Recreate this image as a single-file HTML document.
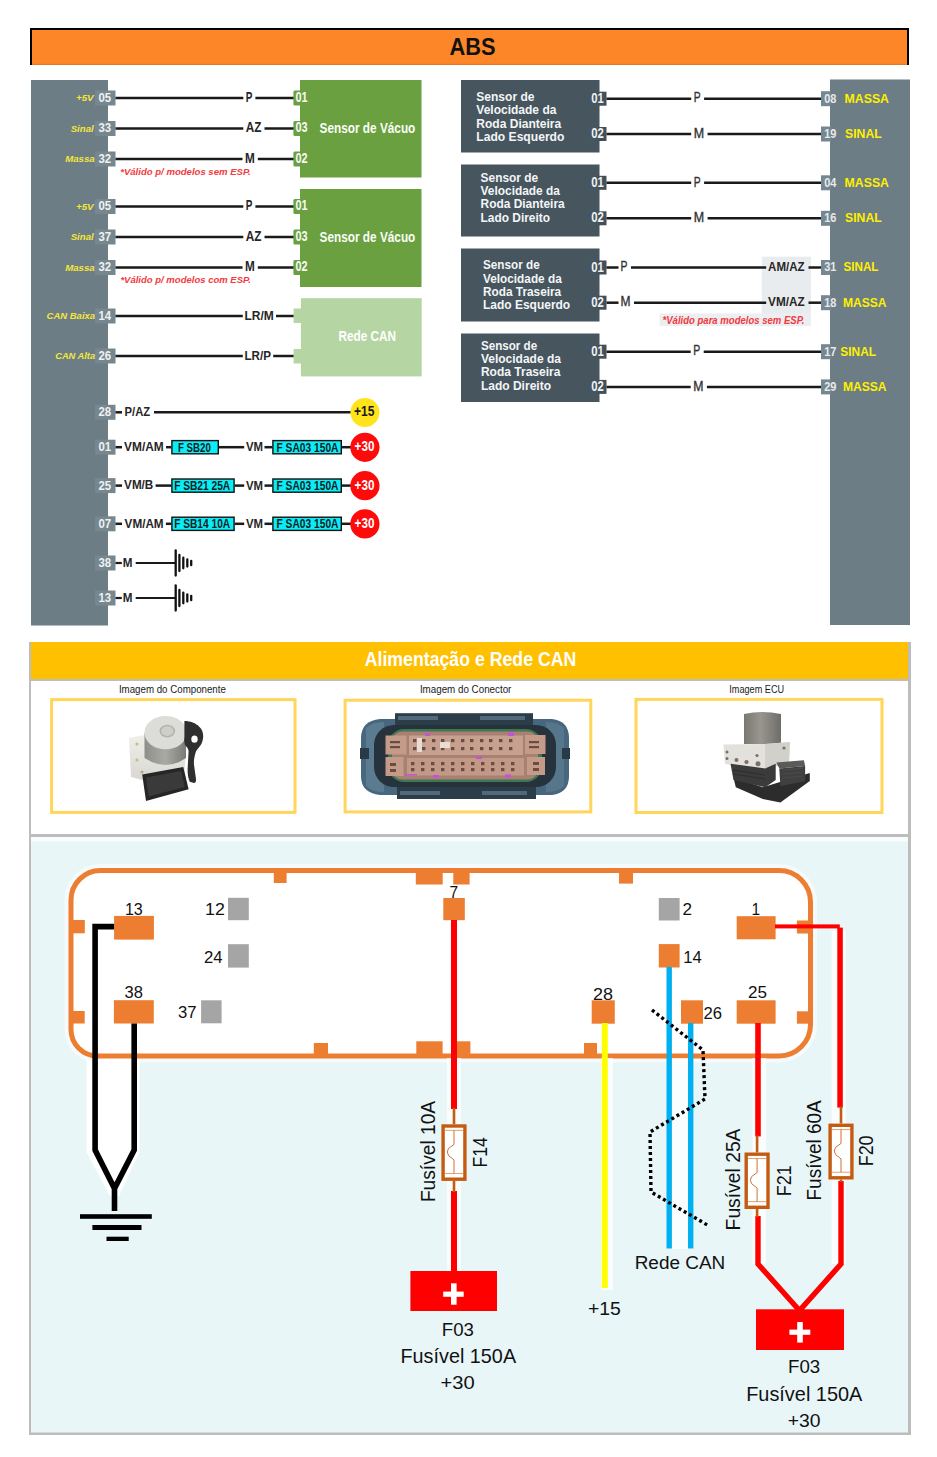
<!DOCTYPE html>
<html><head><meta charset="utf-8"><title>ABS</title>
<style>
html,body{margin:0;padding:0;background:#fff;}
body{width:937px;height:1457px;overflow:hidden;}
svg{display:block;font-family:"Liberation Sans",sans-serif;}
</style></head>
<body>
<svg width="937" height="1457" viewBox="0 0 937 1457">
<rect x="0" y="0" width="937" height="1457" fill="#FFFFFF"/>
<rect x="30" y="28" width="879" height="36.8" fill="#FD8628"/>
<rect x="31" y="63.9" width="877" height="0.9" fill="#E06E1E"/>
<path d="M31,65 V29 H908 V65" fill="none" stroke="#000" stroke-width="2"/>
<text x="449.6" y="55.2" font-size="23.5" fill="#111" font-weight="bold" textLength="46" lengthAdjust="spacingAndGlyphs">ABS</text>
<rect x="31" y="80" width="77" height="545.5" fill="#6C7D86"/>
<rect x="830" y="79.5" width="80" height="545.5" fill="#6C7D86"/>
<rect x="95" y="90.5" width="20.5" height="15" fill="#77878F"/>
<text x="98.5" y="101.9" font-size="13" fill="#EEF1F2" font-weight="bold" textLength="12.7" lengthAdjust="spacingAndGlyphs">05</text>
<text x="75.9" y="101.2" font-size="9.6" fill="#F5E63A" font-weight="bold" font-style="italic" textLength="17.8" lengthAdjust="spacingAndGlyphs">+5V</text>
<rect x="95" y="121" width="20.5" height="15" fill="#77878F"/>
<text x="98.5" y="132.4" font-size="13" fill="#EEF1F2" font-weight="bold" textLength="12.7" lengthAdjust="spacingAndGlyphs">33</text>
<text x="70.7" y="131.7" font-size="9.6" fill="#F5E63A" font-weight="bold" font-style="italic" textLength="23" lengthAdjust="spacingAndGlyphs">Sinal</text>
<rect x="95" y="151.5" width="20.5" height="15" fill="#77878F"/>
<text x="98.5" y="162.9" font-size="13" fill="#EEF1F2" font-weight="bold" textLength="12.7" lengthAdjust="spacingAndGlyphs">32</text>
<text x="65.2" y="162.2" font-size="9.6" fill="#F5E63A" font-weight="bold" font-style="italic" textLength="29.5" lengthAdjust="spacingAndGlyphs">Massa</text>
<rect x="95" y="199" width="20.5" height="15" fill="#77878F"/>
<text x="98.5" y="210.4" font-size="13" fill="#EEF1F2" font-weight="bold" textLength="12.7" lengthAdjust="spacingAndGlyphs">05</text>
<text x="75.9" y="209.7" font-size="9.6" fill="#F5E63A" font-weight="bold" font-style="italic" textLength="17.8" lengthAdjust="spacingAndGlyphs">+5V</text>
<rect x="95" y="229.5" width="20.5" height="15" fill="#77878F"/>
<text x="98.5" y="240.9" font-size="13" fill="#EEF1F2" font-weight="bold" textLength="12.7" lengthAdjust="spacingAndGlyphs">37</text>
<text x="70.7" y="240.2" font-size="9.6" fill="#F5E63A" font-weight="bold" font-style="italic" textLength="23" lengthAdjust="spacingAndGlyphs">Sinal</text>
<rect x="95" y="260" width="20.5" height="15" fill="#77878F"/>
<text x="98.5" y="271.4" font-size="13" fill="#EEF1F2" font-weight="bold" textLength="12.7" lengthAdjust="spacingAndGlyphs">32</text>
<text x="65.2" y="270.7" font-size="9.6" fill="#F5E63A" font-weight="bold" font-style="italic" textLength="29.5" lengthAdjust="spacingAndGlyphs">Massa</text>
<rect x="95" y="308.5" width="20.5" height="15" fill="#77878F"/>
<text x="98.5" y="319.9" font-size="13" fill="#EEF1F2" font-weight="bold" textLength="12.7" lengthAdjust="spacingAndGlyphs">14</text>
<text x="46.6" y="319.2" font-size="9.6" fill="#F5E63A" font-weight="bold" font-style="italic" textLength="48.5" lengthAdjust="spacingAndGlyphs">CAN Baixa</text>
<rect x="95" y="348.5" width="20.5" height="15" fill="#77878F"/>
<text x="98.5" y="359.9" font-size="13" fill="#EEF1F2" font-weight="bold" textLength="12.7" lengthAdjust="spacingAndGlyphs">26</text>
<text x="55.2" y="359.2" font-size="9.6" fill="#F5E63A" font-weight="bold" font-style="italic" textLength="39.9" lengthAdjust="spacingAndGlyphs">CAN Alta</text>
<rect x="95" y="404.8" width="20.5" height="15" fill="#77878F"/>
<text x="98.5" y="416.2" font-size="13" fill="#EEF1F2" font-weight="bold" textLength="12.7" lengthAdjust="spacingAndGlyphs">28</text>
<rect x="95" y="439.7" width="20.5" height="15" fill="#77878F"/>
<text x="98.5" y="451.1" font-size="13" fill="#EEF1F2" font-weight="bold" textLength="12.7" lengthAdjust="spacingAndGlyphs">01</text>
<rect x="95" y="478.1" width="20.5" height="15" fill="#77878F"/>
<text x="98.5" y="489.5" font-size="13" fill="#EEF1F2" font-weight="bold" textLength="12.7" lengthAdjust="spacingAndGlyphs">25</text>
<rect x="95" y="516.3" width="20.5" height="15" fill="#77878F"/>
<text x="98.5" y="527.7" font-size="13" fill="#EEF1F2" font-weight="bold" textLength="12.7" lengthAdjust="spacingAndGlyphs">07</text>
<rect x="95" y="555.5" width="20.5" height="15" fill="#77878F"/>
<text x="98.5" y="566.9" font-size="13" fill="#EEF1F2" font-weight="bold" textLength="12.7" lengthAdjust="spacingAndGlyphs">38</text>
<rect x="95" y="590.5" width="20.5" height="15" fill="#77878F"/>
<text x="98.5" y="601.9" font-size="13" fill="#EEF1F2" font-weight="bold" textLength="12.7" lengthAdjust="spacingAndGlyphs">13</text>
<line x1="115.5" y1="98" x2="243.3" y2="98" stroke="#1a1a1a" stroke-width="2.5"/>
<line x1="255.4" y1="98" x2="294" y2="98" stroke="#1a1a1a" stroke-width="2.5"/>
<text x="245.8" y="101.7" font-size="13.8" fill="#262626" font-weight="bold" textLength="6.6" lengthAdjust="spacingAndGlyphs">P</text>
<line x1="115.5" y1="128.5" x2="243.3" y2="128.5" stroke="#1a1a1a" stroke-width="2.5"/>
<line x1="264.5" y1="128.5" x2="294" y2="128.5" stroke="#1a1a1a" stroke-width="2.5"/>
<text x="245.8" y="132.2" font-size="13.8" fill="#262626" font-weight="bold" textLength="15.7" lengthAdjust="spacingAndGlyphs">AZ</text>
<line x1="115.5" y1="159" x2="242.5" y2="159" stroke="#1a1a1a" stroke-width="2.5"/>
<line x1="257.8" y1="159" x2="294" y2="159" stroke="#1a1a1a" stroke-width="2.5"/>
<text x="245" y="162.7" font-size="13.8" fill="#262626" font-weight="bold" textLength="9.8" lengthAdjust="spacingAndGlyphs">M</text>
<line x1="115.5" y1="206.5" x2="243.3" y2="206.5" stroke="#1a1a1a" stroke-width="2.5"/>
<line x1="255.4" y1="206.5" x2="294" y2="206.5" stroke="#1a1a1a" stroke-width="2.5"/>
<text x="245.8" y="210.2" font-size="13.8" fill="#262626" font-weight="bold" textLength="6.6" lengthAdjust="spacingAndGlyphs">P</text>
<line x1="115.5" y1="237" x2="243.3" y2="237" stroke="#1a1a1a" stroke-width="2.5"/>
<line x1="264.5" y1="237" x2="294" y2="237" stroke="#1a1a1a" stroke-width="2.5"/>
<text x="245.8" y="240.7" font-size="13.8" fill="#262626" font-weight="bold" textLength="15.7" lengthAdjust="spacingAndGlyphs">AZ</text>
<line x1="115.5" y1="267.5" x2="242.5" y2="267.5" stroke="#1a1a1a" stroke-width="2.5"/>
<line x1="257.8" y1="267.5" x2="294" y2="267.5" stroke="#1a1a1a" stroke-width="2.5"/>
<text x="245" y="271.2" font-size="13.8" fill="#262626" font-weight="bold" textLength="9.8" lengthAdjust="spacingAndGlyphs">M</text>
<rect x="300" y="80" width="121.5" height="97.5" fill="#6AA040"/>
<rect x="293.4" y="90.5" width="10" height="15" rx="1.5" fill="#6AA040"/>
<text x="295.5" y="101.9" font-size="13.8" fill="#F7FAF4" font-weight="bold" textLength="12.1" lengthAdjust="spacingAndGlyphs">01</text>
<rect x="293.4" y="121" width="10" height="15" rx="1.5" fill="#6AA040"/>
<text x="295.5" y="132.4" font-size="13.8" fill="#F7FAF4" font-weight="bold" textLength="12.1" lengthAdjust="spacingAndGlyphs">03</text>
<rect x="293.4" y="151.5" width="10" height="15" rx="1.5" fill="#6AA040"/>
<text x="295.5" y="162.9" font-size="13.8" fill="#F7FAF4" font-weight="bold" textLength="12.1" lengthAdjust="spacingAndGlyphs">02</text>
<text x="319.6" y="133.1" font-size="14.2" fill="#FBFDF8" font-weight="bold" textLength="95.7" lengthAdjust="spacingAndGlyphs">Sensor de Vácuo</text>
<rect x="300" y="189" width="121.5" height="98" fill="#6AA040"/>
<rect x="293.4" y="199" width="10" height="15" rx="1.5" fill="#6AA040"/>
<text x="295.5" y="210.4" font-size="13.8" fill="#F7FAF4" font-weight="bold" textLength="12.1" lengthAdjust="spacingAndGlyphs">01</text>
<rect x="293.4" y="229.5" width="10" height="15" rx="1.5" fill="#6AA040"/>
<text x="295.5" y="240.9" font-size="13.8" fill="#F7FAF4" font-weight="bold" textLength="12.1" lengthAdjust="spacingAndGlyphs">03</text>
<rect x="293.4" y="260" width="10" height="15" rx="1.5" fill="#6AA040"/>
<text x="295.5" y="271.4" font-size="13.8" fill="#F7FAF4" font-weight="bold" textLength="12.1" lengthAdjust="spacingAndGlyphs">02</text>
<text x="319.6" y="241.6" font-size="14.2" fill="#FBFDF8" font-weight="bold" textLength="95.7" lengthAdjust="spacingAndGlyphs">Sensor de Vácuo</text>
<text x="120.2" y="174.6" font-size="9.6" fill="#F23A40" font-weight="bold" font-style="italic" textLength="130.5" lengthAdjust="spacingAndGlyphs">*Válido p/ modelos sem ESP.</text>
<text x="120.4" y="283.2" font-size="9.6" fill="#F23A40" font-weight="bold" font-style="italic" textLength="130.4" lengthAdjust="spacingAndGlyphs">*Válido p/ modelos com ESP.</text>
<rect x="300.9" y="298.2" width="120.8" height="78.2" fill="#B5D6A2"/>
<rect x="293.6" y="308.5" width="7.4" height="14.5" fill="#B5D6A2"/>
<rect x="293.6" y="349" width="7.4" height="14.5" fill="#B5D6A2"/>
<text x="338.6" y="341.4" font-size="14.2" fill="#FFFFFF" font-weight="bold" textLength="57.4" lengthAdjust="spacingAndGlyphs">Rede CAN</text>
<line x1="115.5" y1="316" x2="242.8" y2="316" stroke="#1a1a1a" stroke-width="2.5"/>
<line x1="276" y1="316" x2="293.6" y2="316" stroke="#1a1a1a" stroke-width="2.5"/>
<text x="244.5" y="319.6" font-size="13.6" fill="#262626" font-weight="bold" textLength="29.3" lengthAdjust="spacingAndGlyphs">LR/M</text>
<line x1="115.5" y1="356" x2="242.8" y2="356" stroke="#1a1a1a" stroke-width="2.5"/>
<line x1="273.2" y1="356" x2="293.6" y2="356" stroke="#1a1a1a" stroke-width="2.5"/>
<text x="244.5" y="359.6" font-size="13.6" fill="#262626" font-weight="bold" textLength="26.5" lengthAdjust="spacingAndGlyphs">LR/P</text>
<line x1="115.5" y1="412.3" x2="122" y2="412.3" stroke="#1a1a1a" stroke-width="2.5"/>
<text x="124.6" y="415.8" font-size="13.6" fill="#262626" font-weight="bold" textLength="25.6" lengthAdjust="spacingAndGlyphs">P/AZ</text>
<line x1="154" y1="412.3" x2="352" y2="412.3" stroke="#1a1a1a" stroke-width="2.5"/>
<circle cx="364.9" cy="412.4" r="14.5" fill="#FFE41C"/>
<text x="354" y="416.2" font-size="14" fill="#1a1a1a" font-weight="bold" textLength="20.4" lengthAdjust="spacingAndGlyphs">+15</text>
<line x1="115.5" y1="447.2" x2="122" y2="447.2" stroke="#1a1a1a" stroke-width="2.5"/>
<text x="124.1" y="451" font-size="13.6" fill="#262626" font-weight="bold" textLength="39.6" lengthAdjust="spacingAndGlyphs">VM/AM</text>
<line x1="166" y1="447.2" x2="171.2" y2="447.2" stroke="#1a1a1a" stroke-width="2.5"/>
<rect x="171.9" y="440.6" width="46.4" height="13.2" fill="#0AEDF5" stroke="#111" stroke-width="1.4"/>
<text x="177.9" y="451.5" font-size="12" fill="#10201f" font-weight="bold" textLength="32.9" lengthAdjust="spacingAndGlyphs">F SB20</text>
<line x1="219" y1="447.2" x2="244.2" y2="447.2" stroke="#1a1a1a" stroke-width="2.5"/>
<text x="245.9" y="451.2" font-size="13.6" fill="#262626" font-weight="bold" textLength="17" lengthAdjust="spacingAndGlyphs">VM</text>
<line x1="264.5" y1="447.2" x2="272.5" y2="447.2" stroke="#1a1a1a" stroke-width="2.5"/>
<rect x="272.9" y="440.6" width="68.4" height="13.2" fill="#0AEDF5" stroke="#111" stroke-width="1.4"/>
<text x="276.5" y="451.5" font-size="12" fill="#10201f" font-weight="bold" textLength="62" lengthAdjust="spacingAndGlyphs">F SA03 150A</text>
<line x1="341.9" y1="447.2" x2="352" y2="447.2" stroke="#1a1a1a" stroke-width="2.5"/>
<circle cx="364.9" cy="447.3" r="14.6" fill="#FF0A0A"/>
<text x="354.6" y="451.1" font-size="14" fill="#FFFFFF" font-weight="bold" textLength="19.8" lengthAdjust="spacingAndGlyphs">+30</text>
<line x1="115.5" y1="485.6" x2="122" y2="485.6" stroke="#1a1a1a" stroke-width="2.5"/>
<text x="124.1" y="489.4" font-size="13.6" fill="#262626" font-weight="bold" textLength="29.2" lengthAdjust="spacingAndGlyphs">VM/B</text>
<line x1="155.6" y1="485.6" x2="171.2" y2="485.6" stroke="#1a1a1a" stroke-width="2.5"/>
<rect x="171.9" y="479" width="62.2" height="13.2" fill="#0AEDF5" stroke="#111" stroke-width="1.4"/>
<text x="174.2" y="489.9" font-size="12" fill="#10201f" font-weight="bold" textLength="56" lengthAdjust="spacingAndGlyphs">F SB21 25A</text>
<line x1="234.8" y1="485.6" x2="244.2" y2="485.6" stroke="#1a1a1a" stroke-width="2.5"/>
<text x="245.9" y="489.6" font-size="13.6" fill="#262626" font-weight="bold" textLength="17" lengthAdjust="spacingAndGlyphs">VM</text>
<line x1="264.5" y1="485.6" x2="272.5" y2="485.6" stroke="#1a1a1a" stroke-width="2.5"/>
<rect x="272.9" y="479" width="68.4" height="13.2" fill="#0AEDF5" stroke="#111" stroke-width="1.4"/>
<text x="276.5" y="489.9" font-size="12" fill="#10201f" font-weight="bold" textLength="62" lengthAdjust="spacingAndGlyphs">F SA03 150A</text>
<line x1="341.9" y1="485.6" x2="352" y2="485.6" stroke="#1a1a1a" stroke-width="2.5"/>
<circle cx="364.9" cy="485.7" r="14.6" fill="#FF0A0A"/>
<text x="354.6" y="489.5" font-size="14" fill="#FFFFFF" font-weight="bold" textLength="19.8" lengthAdjust="spacingAndGlyphs">+30</text>
<line x1="115.5" y1="523.8" x2="122" y2="523.8" stroke="#1a1a1a" stroke-width="2.5"/>
<text x="124.6" y="527.6" font-size="13.6" fill="#262626" font-weight="bold" textLength="39" lengthAdjust="spacingAndGlyphs">VM/AM</text>
<line x1="165.9" y1="523.8" x2="171.2" y2="523.8" stroke="#1a1a1a" stroke-width="2.5"/>
<rect x="171.9" y="517.2" width="62.2" height="13.2" fill="#0AEDF5" stroke="#111" stroke-width="1.4"/>
<text x="174.2" y="528.1" font-size="12" fill="#10201f" font-weight="bold" textLength="56" lengthAdjust="spacingAndGlyphs">F SB14 10A</text>
<line x1="234.8" y1="523.8" x2="244.2" y2="523.8" stroke="#1a1a1a" stroke-width="2.5"/>
<text x="245.9" y="527.8" font-size="13.6" fill="#262626" font-weight="bold" textLength="17" lengthAdjust="spacingAndGlyphs">VM</text>
<line x1="264.5" y1="523.8" x2="272.5" y2="523.8" stroke="#1a1a1a" stroke-width="2.5"/>
<rect x="272.9" y="517.2" width="68.4" height="13.2" fill="#0AEDF5" stroke="#111" stroke-width="1.4"/>
<text x="276.5" y="528.1" font-size="12" fill="#10201f" font-weight="bold" textLength="62" lengthAdjust="spacingAndGlyphs">F SA03 150A</text>
<line x1="341.9" y1="523.8" x2="352" y2="523.8" stroke="#1a1a1a" stroke-width="2.5"/>
<circle cx="364.9" cy="523.9" r="14.6" fill="#FF0A0A"/>
<text x="354.6" y="527.7" font-size="14" fill="#FFFFFF" font-weight="bold" textLength="19.8" lengthAdjust="spacingAndGlyphs">+30</text>
<line x1="115.5" y1="563" x2="121.8" y2="563" stroke="#1a1a1a" stroke-width="2.2"/>
<text x="122.8" y="566.5" font-size="13.6" fill="#262626" font-weight="bold" textLength="9.7" lengthAdjust="spacingAndGlyphs">M</text>
<line x1="135.7" y1="563" x2="176" y2="563" stroke="#1a1a1a" stroke-width="2.2"/>
<line x1="175.7" y1="550.5" x2="175.7" y2="575.5" stroke="#111" stroke-width="2.3" stroke-linecap="round"/>
<line x1="179.4" y1="555" x2="179.4" y2="571" stroke="#111" stroke-width="2.3" stroke-linecap="round"/>
<line x1="183.3" y1="557.7" x2="183.3" y2="568.3" stroke="#111" stroke-width="2.3" stroke-linecap="round"/>
<line x1="187.3" y1="559.4" x2="187.3" y2="566.6" stroke="#111" stroke-width="2.3" stroke-linecap="round"/>
<line x1="191.2" y1="560.8" x2="191.2" y2="565.2" stroke="#111" stroke-width="2.3" stroke-linecap="round"/>
<line x1="115.5" y1="598" x2="121.8" y2="598" stroke="#1a1a1a" stroke-width="2.2"/>
<text x="122.8" y="601.5" font-size="13.6" fill="#262626" font-weight="bold" textLength="9.7" lengthAdjust="spacingAndGlyphs">M</text>
<line x1="135.7" y1="598" x2="176" y2="598" stroke="#1a1a1a" stroke-width="2.2"/>
<line x1="175.7" y1="585.5" x2="175.7" y2="610.5" stroke="#111" stroke-width="2.3" stroke-linecap="round"/>
<line x1="179.4" y1="590" x2="179.4" y2="606" stroke="#111" stroke-width="2.3" stroke-linecap="round"/>
<line x1="183.3" y1="592.7" x2="183.3" y2="603.3" stroke="#111" stroke-width="2.3" stroke-linecap="round"/>
<line x1="187.3" y1="594.4" x2="187.3" y2="601.6" stroke="#111" stroke-width="2.3" stroke-linecap="round"/>
<line x1="191.2" y1="595.8" x2="191.2" y2="600.2" stroke="#111" stroke-width="2.3" stroke-linecap="round"/>
<rect x="461" y="80" width="138.5" height="72.5" fill="#47555F"/>
<text x="476.3" y="100.9" font-size="12.6" fill="#F3F5F6" font-weight="bold" textLength="58.2" lengthAdjust="spacingAndGlyphs">Sensor de</text>
<text x="476.3" y="114.2" font-size="12.6" fill="#F3F5F6" font-weight="bold" textLength="80.1" lengthAdjust="spacingAndGlyphs">Velocidade da</text>
<text x="476.3" y="127.5" font-size="12.6" fill="#F3F5F6" font-weight="bold" textLength="84.9" lengthAdjust="spacingAndGlyphs">Roda Dianteira</text>
<text x="476.3" y="140.6" font-size="12.6" fill="#F3F5F6" font-weight="bold" textLength="88.1" lengthAdjust="spacingAndGlyphs">Lado Esquerdo</text>
<rect x="598" y="91.7" width="8.5" height="14" fill="#434F59"/>
<text x="591.2" y="102.8" font-size="14.6" fill="#EEF1F2" font-weight="bold" textLength="12.6" lengthAdjust="spacingAndGlyphs">01</text>
<rect x="598" y="127" width="8.5" height="14" fill="#434F59"/>
<text x="591.2" y="138.1" font-size="14.6" fill="#EEF1F2" font-weight="bold" textLength="12.6" lengthAdjust="spacingAndGlyphs">02</text>
<rect x="461" y="164.5" width="138.5" height="72" fill="#47555F"/>
<text x="480.6" y="181.7" font-size="12.6" fill="#F3F5F6" font-weight="bold" textLength="57.6" lengthAdjust="spacingAndGlyphs">Sensor de</text>
<text x="480.6" y="195" font-size="12.6" fill="#F3F5F6" font-weight="bold" textLength="79.3" lengthAdjust="spacingAndGlyphs">Velocidade da</text>
<text x="480.6" y="208.3" font-size="12.6" fill="#F3F5F6" font-weight="bold" textLength="84.1" lengthAdjust="spacingAndGlyphs">Roda Dianteira</text>
<text x="480.6" y="221.8" font-size="12.6" fill="#F3F5F6" font-weight="bold" textLength="69.4" lengthAdjust="spacingAndGlyphs">Lado Direito</text>
<rect x="598" y="175.8" width="8.5" height="14" fill="#434F59"/>
<text x="591.2" y="186.9" font-size="14.6" fill="#EEF1F2" font-weight="bold" textLength="12.6" lengthAdjust="spacingAndGlyphs">01</text>
<rect x="598" y="211.3" width="8.5" height="14" fill="#434F59"/>
<text x="591.2" y="222.4" font-size="14.6" fill="#EEF1F2" font-weight="bold" textLength="12.6" lengthAdjust="spacingAndGlyphs">02</text>
<rect x="461" y="248.5" width="138.5" height="73" fill="#47555F"/>
<text x="483" y="269.3" font-size="12.6" fill="#F3F5F6" font-weight="bold" textLength="56.8" lengthAdjust="spacingAndGlyphs">Sensor de</text>
<text x="483" y="282.7" font-size="12.6" fill="#F3F5F6" font-weight="bold" textLength="78.7" lengthAdjust="spacingAndGlyphs">Velocidade da</text>
<text x="483" y="296" font-size="12.6" fill="#F3F5F6" font-weight="bold" textLength="78.2" lengthAdjust="spacingAndGlyphs">Roda Traseira</text>
<text x="483" y="309.4" font-size="12.6" fill="#F3F5F6" font-weight="bold" textLength="87.2" lengthAdjust="spacingAndGlyphs">Lado Esquerdo</text>
<rect x="598" y="260.5" width="8.5" height="14" fill="#434F59"/>
<text x="591.2" y="271.6" font-size="14.6" fill="#EEF1F2" font-weight="bold" textLength="12.6" lengthAdjust="spacingAndGlyphs">01</text>
<rect x="598" y="295.7" width="8.5" height="14" fill="#434F59"/>
<text x="591.2" y="306.8" font-size="14.6" fill="#EEF1F2" font-weight="bold" textLength="12.6" lengthAdjust="spacingAndGlyphs">02</text>
<rect x="461" y="333.5" width="138.5" height="68.5" fill="#47555F"/>
<text x="480.9" y="349.6" font-size="12.6" fill="#F3F5F6" font-weight="bold" textLength="56.3" lengthAdjust="spacingAndGlyphs">Sensor de</text>
<text x="480.9" y="362.9" font-size="12.6" fill="#F3F5F6" font-weight="bold" textLength="80" lengthAdjust="spacingAndGlyphs">Velocidade da</text>
<text x="480.9" y="376.4" font-size="12.6" fill="#F3F5F6" font-weight="bold" textLength="79.5" lengthAdjust="spacingAndGlyphs">Roda Traseira</text>
<text x="480.9" y="389.8" font-size="12.6" fill="#F3F5F6" font-weight="bold" textLength="70.1" lengthAdjust="spacingAndGlyphs">Lado Direito</text>
<rect x="598" y="344.7" width="8.5" height="14" fill="#434F59"/>
<text x="591.2" y="355.8" font-size="14.6" fill="#EEF1F2" font-weight="bold" textLength="12.6" lengthAdjust="spacingAndGlyphs">01</text>
<rect x="598" y="379.9" width="8.5" height="14" fill="#434F59"/>
<text x="591.2" y="391" font-size="14.6" fill="#EEF1F2" font-weight="bold" textLength="12.6" lengthAdjust="spacingAndGlyphs">02</text>
<rect x="761.8" y="256.7" width="49.2" height="69.2" fill="#E9ECEF"/>
<rect x="659.6" y="313.4" width="151.4" height="12.5" fill="#ECEEF1"/>
<rect x="821" y="91.2" width="10" height="15" fill="#77878F"/>
<text x="824.2" y="102.6" font-size="13" fill="#E6EAEC" font-weight="bold" textLength="12.2" lengthAdjust="spacingAndGlyphs">08</text>
<text x="844.6" y="102.6" font-size="13.2" fill="#FFF000" font-weight="bold" textLength="44.4" lengthAdjust="spacingAndGlyphs">MASSA</text>
<line x1="606.5" y1="98.7" x2="691.2" y2="98.7" stroke="#1a1a1a" stroke-width="2.5"/>
<line x1="704.1" y1="98.7" x2="821" y2="98.7" stroke="#1a1a1a" stroke-width="2.5"/>
<text x="693.7" y="102.4" font-size="13.8" fill="#333" textLength="6.9" lengthAdjust="spacingAndGlyphs" stroke="#333" stroke-width="0.35">P</text>
<rect x="821" y="126.5" width="10" height="15" fill="#77878F"/>
<text x="824.2" y="137.9" font-size="13" fill="#E6EAEC" font-weight="bold" textLength="12.2" lengthAdjust="spacingAndGlyphs">19</text>
<text x="845.1" y="137.9" font-size="13.2" fill="#FFF000" font-weight="bold" textLength="36.5" lengthAdjust="spacingAndGlyphs">SINAL</text>
<line x1="606.5" y1="134" x2="691.2" y2="134" stroke="#1a1a1a" stroke-width="2.5"/>
<line x1="707.6" y1="134" x2="821" y2="134" stroke="#1a1a1a" stroke-width="2.5"/>
<text x="693.7" y="137.7" font-size="13.8" fill="#333" textLength="10.4" lengthAdjust="spacingAndGlyphs" stroke="#333" stroke-width="0.35">M</text>
<rect x="821" y="175.3" width="10" height="15" fill="#77878F"/>
<text x="824.2" y="186.7" font-size="13" fill="#E6EAEC" font-weight="bold" textLength="12.2" lengthAdjust="spacingAndGlyphs">04</text>
<text x="844.6" y="186.7" font-size="13.2" fill="#FFF000" font-weight="bold" textLength="44.4" lengthAdjust="spacingAndGlyphs">MASSA</text>
<line x1="606.5" y1="182.8" x2="691.2" y2="182.8" stroke="#1a1a1a" stroke-width="2.5"/>
<line x1="704.1" y1="182.8" x2="821" y2="182.8" stroke="#1a1a1a" stroke-width="2.5"/>
<text x="693.7" y="186.5" font-size="13.8" fill="#333" textLength="6.9" lengthAdjust="spacingAndGlyphs" stroke="#333" stroke-width="0.35">P</text>
<rect x="821" y="210.8" width="10" height="15" fill="#77878F"/>
<text x="824.2" y="222.2" font-size="13" fill="#E6EAEC" font-weight="bold" textLength="12.2" lengthAdjust="spacingAndGlyphs">16</text>
<text x="845.1" y="222.2" font-size="13.2" fill="#FFF000" font-weight="bold" textLength="36.5" lengthAdjust="spacingAndGlyphs">SINAL</text>
<line x1="606.5" y1="218.3" x2="691.2" y2="218.3" stroke="#1a1a1a" stroke-width="2.5"/>
<line x1="707.6" y1="218.3" x2="821" y2="218.3" stroke="#1a1a1a" stroke-width="2.5"/>
<text x="693.7" y="222" font-size="13.8" fill="#333" textLength="10.4" lengthAdjust="spacingAndGlyphs" stroke="#333" stroke-width="0.35">M</text>
<rect x="821" y="260" width="10" height="15" fill="#77878F"/>
<text x="824.2" y="271.4" font-size="13" fill="#E6EAEC" font-weight="bold" textLength="12.2" lengthAdjust="spacingAndGlyphs">31</text>
<text x="843.5" y="271.4" font-size="13.2" fill="#FFF000" font-weight="bold" textLength="34.9" lengthAdjust="spacingAndGlyphs">SINAL</text>
<rect x="821" y="295.2" width="10" height="15" fill="#77878F"/>
<text x="824.2" y="306.6" font-size="13" fill="#E6EAEC" font-weight="bold" textLength="12.2" lengthAdjust="spacingAndGlyphs">18</text>
<text x="842.9" y="306.6" font-size="13.2" fill="#FFF000" font-weight="bold" textLength="43.7" lengthAdjust="spacingAndGlyphs">MASSA</text>
<rect x="821" y="344.2" width="10" height="15" fill="#77878F"/>
<text x="824.2" y="355.6" font-size="13" fill="#E6EAEC" font-weight="bold" textLength="12.2" lengthAdjust="spacingAndGlyphs">17</text>
<text x="840.3" y="355.6" font-size="13.2" fill="#FFF000" font-weight="bold" textLength="35.8" lengthAdjust="spacingAndGlyphs">SINAL</text>
<line x1="606.5" y1="351.7" x2="690.7" y2="351.7" stroke="#1a1a1a" stroke-width="2.5"/>
<line x1="703.7" y1="351.7" x2="821" y2="351.7" stroke="#1a1a1a" stroke-width="2.5"/>
<text x="693.2" y="355.4" font-size="13.8" fill="#333" textLength="7" lengthAdjust="spacingAndGlyphs" stroke="#333" stroke-width="0.35">P</text>
<rect x="821" y="379.4" width="10" height="15" fill="#77878F"/>
<text x="824.2" y="390.8" font-size="13" fill="#E6EAEC" font-weight="bold" textLength="12.2" lengthAdjust="spacingAndGlyphs">29</text>
<text x="842.9" y="390.8" font-size="13.2" fill="#FFF000" font-weight="bold" textLength="43.7" lengthAdjust="spacingAndGlyphs">MASSA</text>
<line x1="606.5" y1="386.9" x2="690.7" y2="386.9" stroke="#1a1a1a" stroke-width="2.5"/>
<line x1="706.9" y1="386.9" x2="821" y2="386.9" stroke="#1a1a1a" stroke-width="2.5"/>
<text x="693.2" y="390.6" font-size="13.8" fill="#333" textLength="10.2" lengthAdjust="spacingAndGlyphs" stroke="#333" stroke-width="0.35">M</text>
<line x1="606.5" y1="267.5" x2="618.5" y2="267.5" stroke="#1a1a1a" stroke-width="2.5"/>
<text x="620.5" y="271.2" font-size="13.8" fill="#333" textLength="7" lengthAdjust="spacingAndGlyphs" stroke="#333" stroke-width="0.35">P</text>
<line x1="631" y1="267.5" x2="766.2" y2="267.5" stroke="#1a1a1a" stroke-width="2.5"/>
<text x="768.1" y="271.2" font-size="13.6" fill="#262626" font-weight="bold" textLength="36.5" lengthAdjust="spacingAndGlyphs">AM/AZ</text>
<line x1="808.5" y1="267.5" x2="821" y2="267.5" stroke="#1a1a1a" stroke-width="2.5"/>
<line x1="606.5" y1="302.7" x2="618.5" y2="302.7" stroke="#1a1a1a" stroke-width="2.5"/>
<text x="620.5" y="306.4" font-size="13.8" fill="#333" textLength="10" lengthAdjust="spacingAndGlyphs" stroke="#333" stroke-width="0.35">M</text>
<line x1="634" y1="302.7" x2="766.2" y2="302.7" stroke="#1a1a1a" stroke-width="2.5"/>
<text x="768.1" y="306.4" font-size="13.6" fill="#262626" font-weight="bold" textLength="36.5" lengthAdjust="spacingAndGlyphs">VM/AZ</text>
<line x1="808.5" y1="302.7" x2="821" y2="302.7" stroke="#1a1a1a" stroke-width="2.5"/>
<text x="662.5" y="323.8" font-size="10.2" fill="#F23A40" font-weight="bold" font-style="italic" textLength="142" lengthAdjust="spacingAndGlyphs">*Válido para modelos sem ESP.</text>
<rect x="29" y="642" width="882" height="793" fill="#BDBDBD"/>
<rect x="31" y="642" width="877" height="37" fill="#FFC000"/>
<rect x="31" y="681" width="877" height="153" fill="#FFFFFF"/>
<rect x="31" y="837" width="877" height="595.5" fill="#E8F6F8"/>
<rect x="31" y="837" width="877" height="4.5" fill="#F8FCFD"/>
<text x="364.7" y="666.3" font-size="19.5" fill="#FFFFFF" font-weight="bold" textLength="211.6" lengthAdjust="spacingAndGlyphs">Alimentação e Rede CAN</text>
<text x="118.9" y="693.3" font-size="10" fill="#1a1a1a" textLength="107" lengthAdjust="spacingAndGlyphs">Imagem do Componente</text>
<text x="419.9" y="693.3" font-size="10" fill="#1a1a1a" textLength="91.5" lengthAdjust="spacingAndGlyphs">Imagem do Conector</text>
<text x="729.3" y="693.3" font-size="10" fill="#1a1a1a" textLength="54.8" lengthAdjust="spacingAndGlyphs">Imagem ECU</text>
<rect x="51.6" y="699.6" width="243.4" height="112.8" fill="#FFFFFF" stroke="#FFD55A" stroke-width="3"/>
<rect x="345.1" y="700.2" width="245.7" height="111.7" fill="#FFFFFF" stroke="#FFD55A" stroke-width="3"/>
<rect x="636" y="699.4" width="246" height="113.1" fill="#FFFFFF" stroke="#FFD55A" stroke-width="3"/>
<g>
<defs>
<linearGradient id="cyl1" x1="0" x2="1" y1="0" y2="0"><stop offset="0" stop-color="#8e8e8a"/><stop offset="0.5" stop-color="#a9a9a5"/><stop offset="1" stop-color="#7a7a76"/></linearGradient>
<linearGradient id="blk1" x1="0" x2="0" y1="0" y2="1"><stop offset="0" stop-color="#f0efea"/><stop offset="1" stop-color="#d8d6d0"/></linearGradient>
</defs>
<path d="M129,738 L150,734 L186,752 L184,776 L150,782 L131,777 Z" fill="url(#blk1)"/>
<circle cx="137" cy="744" r="1.6" fill="#c9b98f"/><circle cx="137" cy="760" r="1.6" fill="#c9b98f"/><circle cx="142" cy="772" r="1.6" fill="#b5a98a"/>
<path d="M144.5,733 L144.5,758 Q166,772 186,758 L186,733 Z" fill="url(#cyl1)"/>
<ellipse cx="165.6" cy="732.7" rx="21.2" ry="16.6" fill="#dcdcd8"/>
<ellipse cx="167.3" cy="731.1" rx="7" ry="5.6" fill="#cfcfca" stroke="#b3b3ae" stroke-width="1.6"/>
<path fill-rule="evenodd" d="M184.4,721 C190,721 196,723 199.5,727 C204,731 204.5,739 200.4,745.6 L196.1,750.9 C194.5,756 193.6,760 194,764.8 L196.1,779.7 C196,782 195,783 194,782.9 L189.7,781.8 C188,778 187.6,773 187.6,769 L188.6,750.9 C188,748 186.5,747 185.4,745.6 C184,742 184,739 184.4,737 Z M194.5,735.6 A3.2,3.6 0 1 0 194.5,742.8 A3.2,3.6 0 1 0 194.5,735.6 Z" fill="#2f2f2f"/>
<path d="M142.2,774.4 L183.3,766.9 L188.6,789.3 L146,801 Z" fill="#262626"/>
<path d="M146,777.5 L181,771 L184.8,787 L148.5,796.5 Z" fill="#3a3a3a"/>
</g>
<g>
<path d="M380,719 L552,719 Q569,721 569,738 L569,776 Q569,793 552,795 L380,795 Q361,793 361,776 L361,738 Q361,721 380,719 Z" fill="#46677d"/>
<path d="M366,728 Q372,722 384,722 L384,792 Q372,792 366,786 Z" fill="#5a7b90"/>
<path d="M564,728 Q558,722 546,722 L546,792 Q558,792 564,786 Z" fill="#55768b"/>
<rect x="360" y="748" width="9" height="11" fill="#2a3946"/>
<rect x="562" y="748" width="8" height="11" fill="#2a3946"/>
<rect x="395" y="713.2" width="138" height="13" fill="#2c3d4a"/>
<rect x="397" y="785" width="139" height="14" fill="#2c3d4a"/>
<rect x="398" y="716" width="40" height="4" fill="#506a7b"/><rect x="480" y="716" width="45" height="4" fill="#506a7b"/>
<rect x="400" y="791" width="40" height="4" fill="#506a7b"/><rect x="482" y="791" width="45" height="4" fill="#506a7b"/>
<rect x="374" y="725" width="182" height="62" rx="20" fill="#27333c"/>
<rect x="388" y="729" width="154" height="53" rx="16" fill="#3f7752"/>
<rect x="392" y="731.5" width="146" height="48" rx="10" fill="#a88172"/>
<rect x="385.5" y="735.5" width="21" height="19" fill="#c49a89"/><rect x="385.5" y="757" width="18" height="19" fill="#c49a89"/>
<rect x="409" y="735.5" width="114" height="19.5" fill="#c8a090"/>
<rect x="407" y="758" width="117" height="17.5" fill="#c29887"/>
<rect x="525" y="735" width="20.5" height="19" fill="#c49a89"/><rect x="527" y="757" width="18" height="18" fill="#c49a89"/>
<g fill="#6a4c42">
<rect x="413" y="739" width="3.4" height="3.2"/><rect x="422" y="739" width="3.4" height="3.2"/><rect x="432" y="739" width="3.4" height="3.2"/><rect x="441" y="739" width="3.4" height="3.2"/><rect x="451" y="739" width="3.4" height="3.2"/><rect x="461" y="739" width="3.4" height="3.2"/><rect x="470" y="739" width="3.4" height="3.2"/><rect x="480" y="739" width="3.4" height="3.2"/><rect x="489" y="739" width="3.4" height="3.2"/><rect x="499" y="739" width="3.4" height="3.2"/><rect x="509" y="739" width="3.4" height="3.2"/><rect x="413" y="747" width="3.4" height="3.2"/><rect x="422" y="747" width="3.4" height="3.2"/><rect x="432" y="747" width="3.4" height="3.2"/><rect x="441" y="747" width="3.4" height="3.2"/><rect x="451" y="747" width="3.4" height="3.2"/><rect x="461" y="747" width="3.4" height="3.2"/><rect x="470" y="747" width="3.4" height="3.2"/><rect x="480" y="747" width="3.4" height="3.2"/><rect x="489" y="747" width="3.4" height="3.2"/><rect x="499" y="747" width="3.4" height="3.2"/><rect x="509" y="747" width="3.4" height="3.2"/><rect x="411" y="762" width="3.4" height="3.2"/><rect x="421" y="762" width="3.4" height="3.2"/><rect x="431" y="762" width="3.4" height="3.2"/><rect x="441" y="762" width="3.4" height="3.2"/><rect x="451" y="762" width="3.4" height="3.2"/><rect x="461" y="762" width="3.4" height="3.2"/><rect x="471" y="762" width="3.4" height="3.2"/><rect x="481" y="762" width="3.4" height="3.2"/><rect x="491" y="762" width="3.4" height="3.2"/><rect x="501" y="762" width="3.4" height="3.2"/><rect x="511" y="762" width="3.4" height="3.2"/><rect x="411" y="768" width="3.4" height="3.2"/><rect x="421" y="768" width="3.4" height="3.2"/><rect x="431" y="768" width="3.4" height="3.2"/><rect x="441" y="768" width="3.4" height="3.2"/><rect x="451" y="768" width="3.4" height="3.2"/><rect x="461" y="768" width="3.4" height="3.2"/><rect x="471" y="768" width="3.4" height="3.2"/><rect x="481" y="768" width="3.4" height="3.2"/><rect x="491" y="768" width="3.4" height="3.2"/><rect x="501" y="768" width="3.4" height="3.2"/><rect x="511" y="768" width="3.4" height="3.2"/>
<rect x="390" y="741" width="10" height="2.2"/><rect x="390" y="746" width="10" height="2.2"/><rect x="529" y="741" width="10" height="2.2"/><rect x="529" y="746" width="10" height="2.2"/>
<rect x="390" y="763" width="6" height="3"/><rect x="390" y="769" width="6" height="3"/><rect x="533" y="762" width="6" height="3"/><rect x="533" y="768" width="6" height="3"/>
</g>
<g fill="#eadbd4"><rect x="440" y="742" width="10" height="6"/><rect x="417" y="738" width="5" height="14"/></g>
<g fill="#c654d2">
<rect x="425" y="733" width="5" height="3"/><rect x="508" y="732.5" width="6" height="3.5"/><rect x="476" y="756.5" width="6" height="2.5"/><rect x="505" y="774.5" width="6" height="3.5"/><rect x="433" y="775" width="6" height="3"/><rect x="405" y="774" width="12" height="1.5"/>
</g>
</g>
<g>
<defs>
<linearGradient id="cyl3" x1="0" x2="1" y1="0" y2="0"><stop offset="0" stop-color="#7a7872"/><stop offset="0.45" stop-color="#99968f"/><stop offset="1" stop-color="#6f6d68"/></linearGradient>
</defs>
<path d="M744,714 Q762,710 781,714 L781,744 L744,744 Z" fill="url(#cyl3)"/>
<path d="M723.5,744.5 L765,744 L790,742 L789,763 L765,769 L725,764 Z" fill="#e3e1dc"/>
<path d="M765,744 L790,742 L789,763 L765,769 Z" fill="#d2d0cb"/>
<g fill="#7d6e66"><circle cx="727" cy="752" r="1.5"/><circle cx="727" cy="758.5" r="1.5"/><circle cx="736.5" cy="760" r="2"/><circle cx="746.5" cy="762" r="2.1"/><circle cx="757" cy="755.5" r="1.6"/><circle cx="758" cy="763.8" r="2.5"/><circle cx="784" cy="748" r="1.6"/></g>
<path d="M733.5,777.8 L762.8,787.2 L809.8,773.1 L809.8,781 L780.4,802.4 L762.8,798.9 L735.8,787.2 Z" fill="#2c2c2c"/>
<path d="M730.5,763.7 L765.2,768.4 L775.7,763.7 L775.7,780.1 L765.2,787.2 L733.5,780.1 Z" fill="#3b3b3b"/>
<path d="M733,770 L765,775 M733,774 L765,779" stroke="#2a2a2a" stroke-width="0.8"/>
<path d="M776.3,762.5 L803.9,760.2 L805.1,766 L779.3,768.4 Z" fill="#5a5a5a"/>
<path d="M779.3,768.4 L805.1,766 L805.1,781.3 L780.4,786 Z" fill="#404040"/>
<path d="M782,770 L803,768 M782,774 L803,772 M782,778 L803,776" stroke="#4c4c4c" stroke-width="0.8"/>
</g>
<path d="M86.5,1056 H139.5 V1152 L119,1196 H110 L86.5,1152 Z" fill="#FFFFFF"/>
<path d="M100.5,870.5 H779 A31.5,31.5 0 0 1 810.5,902 V1024.5 A31.5,31.5 0 0 1 779,1056 H97.5 A26.5,26.5 0 0 1 71,1029.5 V900 A29.5,29.5 0 0 1 100.5,870.5 Z" fill="none" stroke="#FFFFFF" stroke-opacity="0.55" stroke-width="13"/>
<path d="M100.5,870.5 H779 A31.5,31.5 0 0 1 810.5,902 V1024.5 A31.5,31.5 0 0 1 779,1056 H97.5 A26.5,26.5 0 0 1 71,1029.5 V900 A29.5,29.5 0 0 1 100.5,870.5 Z" fill="#FFFFFF" stroke="#ED7D31" stroke-width="5"/>
<rect x="273.8" y="872" width="12.8" height="11" fill="#ED7D31"/>
<rect x="415.8" y="872" width="26.9" height="12.5" fill="#ED7D31"/>
<rect x="453.3" y="872" width="16.3" height="12.5" fill="#ED7D31"/>
<rect x="619" y="872" width="14" height="11.6" fill="#ED7D31"/>
<rect x="313.8" y="1043" width="14.2" height="11" fill="#ED7D31"/>
<rect x="416.3" y="1041.3" width="26.3" height="12.7" fill="#ED7D31"/>
<rect x="456.7" y="1041.3" width="13.7" height="12.7" fill="#ED7D31"/>
<rect x="584" y="1043" width="13" height="11" fill="#ED7D31"/>
<rect x="73" y="920" width="11.8" height="13.3" fill="#ED7D31"/>
<rect x="73" y="1011" width="11.7" height="12.5" fill="#ED7D31"/>
<rect x="796.9" y="920.5" width="11.6" height="13" fill="#ED7D31"/>
<rect x="796.9" y="1011.3" width="11.6" height="12.4" fill="#ED7D31"/>
<rect x="114.1" y="915.9" width="39.8" height="23.7" fill="#ED7D31"/>
<rect x="113.9" y="1000.2" width="39.9" height="23.3" fill="#ED7D31"/>
<rect x="443.3" y="898" width="21.5" height="22.2" fill="#ED7D31"/>
<rect x="658.8" y="944.1" width="20.8" height="23.4" fill="#ED7D31"/>
<rect x="591.7" y="1000.3" width="23.1" height="23.4" fill="#ED7D31"/>
<rect x="681" y="1000.3" width="22" height="23.4" fill="#ED7D31"/>
<rect x="736.7" y="916.2" width="38.9" height="23.1" fill="#ED7D31"/>
<rect x="736.7" y="1000.3" width="38.9" height="23.4" fill="#ED7D31"/>
<rect x="228" y="897.8" width="20.8" height="22.4" fill="#A5A5A5"/>
<rect x="228" y="944.2" width="20.8" height="23.4" fill="#A5A5A5"/>
<rect x="201.1" y="1000.3" width="20.5" height="23" fill="#A5A5A5"/>
<rect x="658.8" y="898" width="20.8" height="22.5" fill="#A5A5A5"/>
<text x="124.9" y="914.9" font-size="16.5" fill="#111" textLength="17.9" lengthAdjust="spacingAndGlyphs">13</text>
<text x="124.6" y="998.4" font-size="16.5" fill="#111" textLength="18.4" lengthAdjust="spacingAndGlyphs">38</text>
<text x="205" y="915.1" font-size="16.5" fill="#111" textLength="19.8" lengthAdjust="spacingAndGlyphs">12</text>
<text x="204" y="963.1" font-size="16.5" fill="#111" textLength="18.6" lengthAdjust="spacingAndGlyphs">24</text>
<text x="178" y="1017.6" font-size="16.5" fill="#111" textLength="18.6" lengthAdjust="spacingAndGlyphs">37</text>
<text x="449.5" y="897.7" font-size="16.5" fill="#111" textLength="8.6" lengthAdjust="spacingAndGlyphs">7</text>
<text x="682.5" y="915.3" font-size="16.5" fill="#111" textLength="9.5" lengthAdjust="spacingAndGlyphs">2</text>
<text x="683.3" y="962.9" font-size="16.5" fill="#111" textLength="18.5" lengthAdjust="spacingAndGlyphs">14</text>
<text x="751.6" y="914.8" font-size="16.5" fill="#111" textLength="8.7" lengthAdjust="spacingAndGlyphs">1</text>
<text x="593" y="999.8" font-size="16.5" fill="#111" textLength="20" lengthAdjust="spacingAndGlyphs">28</text>
<text x="703.5" y="1018.5" font-size="16.5" fill="#111" textLength="18.5" lengthAdjust="spacingAndGlyphs">26</text>
<text x="748" y="998.3" font-size="16.5" fill="#111" textLength="19" lengthAdjust="spacingAndGlyphs">25</text>
<path d="M114.1,926.6 H95.1 V1150 L114.5,1188.5 M134.2,1023.5 V1150 L114.5,1188.5 V1211" fill="none" stroke="#000" stroke-width="5.6" stroke-linejoin="miter"/>
<rect x="80" y="1214.2" width="71.8" height="4.6" fill="#000"/>
<rect x="92.4" y="1225" width="49.1" height="5" fill="#000"/>
<rect x="106.5" y="1236.7" width="22.2" height="4.3" fill="#000"/>
<g stroke="#FFFFFF" stroke-opacity="0.75" fill="none">
<path d="M454,1058 V1272" stroke-width="14"/>
<path d="M607,1058 V1290" stroke-width="12"/>
<path d="M680,1058 V1249" stroke-width="26"/>
<path d="M759.2,1058 V1264" stroke-width="13.5"/>
<path d="M838.7,931 V1264" stroke-width="14"/>
</g>
<path d="M454,920 V1109" stroke="#FF0000" stroke-width="6" fill="none"/>
<path d="M454,1191 V1272" stroke="#FF0000" stroke-width="6" fill="none"/>
<path d="M604.8,1023 V1288" stroke="#FFFF00" stroke-width="6" fill="none"/>
<path d="M669.2,967 V1248.6" stroke="#00B0F0" stroke-width="5.4" fill="none"/>
<path d="M690.7,1023 V1248.6" stroke="#00B0F0" stroke-width="5.4" fill="none"/>
<rect x="775" y="924.4" width="64.8" height="4" fill="#FF0000"/>
<rect x="837.3" y="927.6" width="5.5" height="180" fill="#FF0000"/>
<path d="M841,1181 V1264 L800,1310" stroke="#FF0000" stroke-width="5.4" fill="none" stroke-linejoin="miter"/>
<path d="M758,1023 V1136.4" stroke="#FF0000" stroke-width="5.6" fill="none"/>
<path d="M758,1216 V1264 L799,1310" stroke="#FF0000" stroke-width="5.4" fill="none" stroke-linejoin="miter"/>
<path d="M652,1010 L703,1050 L705,1099 L650,1132 L651,1192 L709,1226" fill="none" stroke="#000" stroke-width="3.4" stroke-dasharray="3 3"/>
<path d="M454,1108 V1124.3 M454,1180.9 V1192" stroke="#C55A11" stroke-width="2.6" fill="none"/>
<rect x="443.1" y="1126" width="21.8" height="53.2" fill="#FFFFFF" stroke="#C55A11" stroke-width="3.4"/>
<path d="M444.9,1130.36 H463.1 M444.9,1173.54 H463.1" stroke="#E0A070" stroke-width="1" fill="none"/>
<path d="M454,1130.36 V1144.45 L448.5,1148.45 Q446,1151.95 448.5,1155.45 L454,1159.95 V1173.54" stroke="#D27035" stroke-width="1" fill="none"/>
<path d="M757.1,1135.5 V1152.5 M757.1,1209 V1217" stroke="#C55A11" stroke-width="2.6" fill="none"/>
<rect x="746.2" y="1154.2" width="21.8" height="53.1" fill="#FFFFFF" stroke="#C55A11" stroke-width="3.4"/>
<path d="M748,1158.55 H766.2 M748,1201.65 H766.2" stroke="#E0A070" stroke-width="1" fill="none"/>
<path d="M757.1,1158.55 V1172.6 L751.6,1176.6 Q749.1,1180.1 751.6,1183.6 L757.1,1188.1 V1201.65" stroke="#D27035" stroke-width="1" fill="none"/>
<path d="M841,1106.5 V1123.6 M841,1179.5 V1182" stroke="#C55A11" stroke-width="2.6" fill="none"/>
<rect x="830.1" y="1125.3" width="21.8" height="52.5" fill="#FFFFFF" stroke="#C55A11" stroke-width="3.4"/>
<path d="M831.9,1129.58 H850.1 M831.9,1172.23 H850.1" stroke="#E0A070" stroke-width="1" fill="none"/>
<path d="M841,1129.58 V1143.41 L835.5,1147.41 Q833,1150.91 835.5,1154.41 L841,1158.91 V1172.23" stroke="#D27035" stroke-width="1" fill="none"/>
<text x="0" y="0" font-size="20.8" fill="#111" textLength="101.2" lengthAdjust="spacingAndGlyphs" transform="translate(435.2,1202.1) rotate(-90)">Fusível 10A</text>
<text x="0" y="0" font-size="20.8" fill="#111" textLength="30.4" lengthAdjust="spacingAndGlyphs" transform="translate(487,1167.6) rotate(-90)">F14</text>
<text x="0" y="0" font-size="20.8" fill="#111" textLength="101.9" lengthAdjust="spacingAndGlyphs" transform="translate(739.5,1230.4) rotate(-90)">Fusível 25A</text>
<text x="0" y="0" font-size="20.8" fill="#111" textLength="30.9" lengthAdjust="spacingAndGlyphs" transform="translate(791.4,1196.2) rotate(-90)">F21</text>
<text x="0" y="0" font-size="20.8" fill="#111" textLength="100.3" lengthAdjust="spacingAndGlyphs" transform="translate(820.6,1200.5) rotate(-90)">Fusível 60A</text>
<text x="0" y="0" font-size="20.8" fill="#111" textLength="30.9" lengthAdjust="spacingAndGlyphs" transform="translate(872.5,1166.3) rotate(-90)">F20</text>
<rect x="410.4" y="1271" width="86.6" height="40" fill="#FF0000"/>
<rect x="451" y="1283.3" width="5.6" height="21.4" fill="#FFFFFF"/>
<rect x="443.2" y="1291.6" width="20.5" height="5.2" fill="#FFFFFF"/>
<rect x="756" y="1309.3" width="88" height="40.7" fill="#FF0000"/>
<rect x="797.2" y="1322" width="5.6" height="20.6" fill="#FFFFFF"/>
<rect x="789.4" y="1329.6" width="20.9" height="5.2" fill="#FFFFFF"/>
<text x="634.7" y="1268.9" font-size="18.8" fill="#111" textLength="90.6" lengthAdjust="spacingAndGlyphs">Rede CAN</text>
<text x="587.9" y="1314.7" font-size="18.2" fill="#111" textLength="32.9" lengthAdjust="spacingAndGlyphs">+15</text>
<text x="441.8" y="1335.7" font-size="19" fill="#111" textLength="32.1" lengthAdjust="spacingAndGlyphs">F03</text>
<text x="400.5" y="1362.7" font-size="19.8" fill="#111" textLength="115.6" lengthAdjust="spacingAndGlyphs">Fusível 150A</text>
<text x="440.6" y="1389.2" font-size="18.6" fill="#111" textLength="34.2" lengthAdjust="spacingAndGlyphs">+30</text>
<text x="788" y="1373.3" font-size="19" fill="#111" textLength="32.2" lengthAdjust="spacingAndGlyphs">F03</text>
<text x="746.2" y="1400.6" font-size="19.8" fill="#111" textLength="116.1" lengthAdjust="spacingAndGlyphs">Fusível 150A</text>
<text x="787.7" y="1427" font-size="18.6" fill="#111" textLength="32.8" lengthAdjust="spacingAndGlyphs">+30</text>
</svg>
</body></html>
